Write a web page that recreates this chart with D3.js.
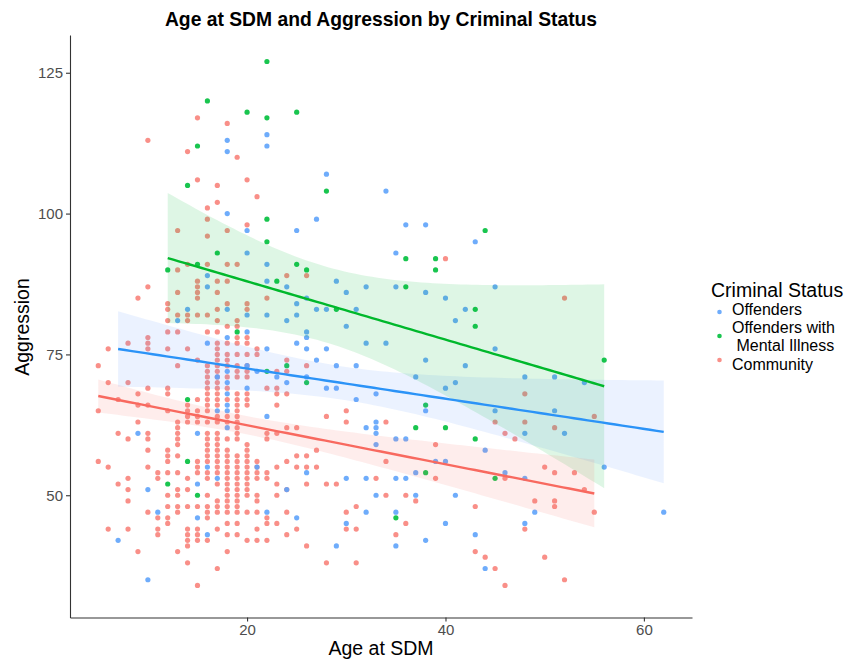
<!DOCTYPE html>
<html>
<head>
<meta charset="utf-8">
<script src="https://cdn.jsdelivr.net/npm/d3@7"></script>
<style>
  body { margin: 0; background: #fff; }
  text { font-family: "Liberation Sans", Arial, Helvetica, sans-serif; }
</style>
</head>
<body>
<svg id="chart" width="845" height="661"></svg>
<script>
// data: [age at SDM, [aggression scores at that age]]
const community = [
  [5, [73, 65, 56]],
  [6, [76, 70, 55, 44]],
  [7, [67, 61, 52]],
  [8, [77, 70, 60, 53, 51, 49, 44]],
  [9, [85, 68, 66, 63, 40]],
  [10, [113, 87, 78, 77, 76, 69, 66, 61, 60, 58, 55, 47]],
  [11, [54, 53, 46, 44, 43]],
  [12, [84, 83, 81, 79, 76, 69, 68, 65, 58, 57, 56, 54, 50, 48, 46, 45]],
  [13, [97, 90, 86, 82, 79, 73, 63, 62, 61, 60, 59, 57, 54, 51, 50, 48, 47, 40]],
  [14, [111, 91, 82, 81, 76, 66, 65, 64, 63, 53, 51, 48, 44, 43, 42, 41, 38]],
  [15, [117, 106, 88, 87, 86, 85, 82, 74, 67, 65, 64, 63, 56, 55, 54, 48, 44, 43, 42, 34]],
  [16, [101, 99, 96, 91, 82, 79, 73, 72, 71, 70, 69, 68, 67, 66, 65, 63, 61, 60, 59, 58, 57, 56, 54, 53, 50, 48, 47, 46, 42]],
  [17, [105, 102, 88, 86, 83, 81, 79, 77, 76, 75, 74, 73, 72, 71, 70, 69, 68, 67, 66, 64, 63, 61, 60, 59, 58, 57, 56, 55, 54, 52, 49, 48, 47, 44, 37]],
  [18, [116, 97, 91, 88, 84, 80, 77, 75, 74, 73, 71, 69, 67, 64, 63, 60, 58, 57, 56, 55, 54, 53, 52, 51, 50, 49, 48, 47, 45, 43, 40]],
  [19, [110, 91, 81, 80, 78, 77, 75, 73, 72, 71, 68, 67, 66, 65, 64, 63, 62, 61, 60, 57, 56, 55, 54, 53, 52, 51, 50, 49, 48, 47, 45, 43]],
  [20, [106, 98, 84, 83, 78, 77, 75, 73, 72, 71, 68, 67, 66, 59, 58, 57, 56, 55, 54, 53, 52, 51, 50, 47, 42]],
  [21, [103, 76, 75, 56, 55, 54, 53, 50, 49, 47, 44, 42]],
  [22, [85, 69, 61, 60, 54, 53, 46, 45, 42]],
  [23, [72, 69, 68, 66, 61, 55, 52, 50, 45]],
  [24, [89, 74, 72, 68, 62, 56, 51, 47, 43]],
  [25, [62, 57, 55, 44]],
  [26, [89, 73, 57, 55, 52, 41]],
  [27, [58, 55]],
  [28, [64, 52, 38]],
  [29, [52]],
  [30, [65, 63, 47, 44]],
  [31, [48, 44, 38]],
  [33, [53]],
  [34, [63, 56, 50]],
  [35, [43]],
  [36, [50, 45]],
  [37, [49]],
  [39, [59, 53]],
  [40, [92]],
  [43, [48, 40]],
  [44, [39]],
  [45, [63, 37]],
  [46, [61, 53, 34]],
  [47, [60]],
  [48, [68, 63, 44]],
  [49, [49]],
  [50, [55, 39]],
  [51, [62, 54, 49, 48]],
  [52, [85, 35]],
  [53, [54]],
  [54, [51]],
  [55, [64, 47]]
];

const offenders = [
  [7, [42]],
  [9, [61]],
  [10, [51, 35]],
  [11, [47]],
  [13, [81]],
  [14, [83]],
  [15, [61, 52, 46]],
  [16, [89, 87, 77, 55, 43]],
  [17, [71, 65, 53]],
  [18, [113, 111, 100, 83, 78, 72, 70, 68, 66, 65, 62]],
  [20, [97, 93, 82, 79, 73, 69]],
  [21, [72, 55]],
  [22, [114, 112, 91, 88, 82, 76, 64, 47]],
  [23, [71]],
  [24, [87, 81, 70, 51]],
  [25, [97, 84, 82, 77, 46]],
  [26, [85, 79, 78, 76, 71, 54]],
  [27, [99, 83, 74]],
  [28, [107, 83, 76, 69]],
  [29, [88, 73, 69, 41]],
  [30, [86, 80, 53, 45]],
  [31, [83, 73, 67]],
  [32, [87, 77, 62, 53, 47]],
  [33, [68, 63, 62, 61, 59, 50]],
  [34, [104, 77]],
  [35, [93, 87, 60, 53, 47, 41]],
  [36, [98, 60, 53]],
  [37, [71, 54, 50]],
  [38, [98, 86, 74, 65, 42]],
  [39, [56]],
  [40, [85, 69, 56, 45]],
  [41, [81, 70, 50]],
  [42, [83, 73]],
  [43, [95, 43]],
  [44, [58, 37]],
  [45, [87, 76, 65]],
  [46, [54]],
  [48, [71, 61, 53, 45]],
  [49, [47]],
  [51, [71, 65]],
  [52, [61]],
  [54, [70]],
  [56, [55]],
  [62, [47]]
];

const offendersMI = [
  [12, [90, 52]],
  [14, [105, 67, 56]],
  [15, [112, 91, 50]],
  [16, [120]],
  [17, [93]],
  [19, [79]],
  [20, [118]],
  [22, [127, 117, 99, 95, 72]],
  [23, [88]],
  [24, [73]],
  [25, [118, 91]],
  [26, [90, 70]],
  [28, [104]],
  [29, [83]],
  [35, [46]],
  [36, [92, 87]],
  [37, [62]],
  [38, [66, 54]],
  [39, [92, 90]],
  [40, [62]],
  [43, [83, 80, 60]],
  [44, [97]],
  [45, [53]],
  [56, [74]]
];

const groupLabels = ["Offenders", "Offenders with\n Mental Illness", "Community"];
const xTicks = [20, 40, 60];
const yTicks = [50, 75, 100, 125];

// styling per group (same order as groupLabels)
const pointColors = ["#5ea3fb", "#00bf3c", "#f8837b"];
const lineColors = ["#2b93f7", "#00b82c", "#f8695f"];
const bandColors = ["#619cff", "#00ba38", "#f8766d"];

const svg = d3.select("#chart");

const x = d3.scaleLinear().domain([2.15, 64.85]).range([70, 692]);
const y = d3.scaleLinear().domain([28.3, 131.7]).range([617.5, 35]);

function flatten(cols) {
  const out = [];
  cols.forEach(([age, vals]) => vals.forEach(v => out.push({ age: age, aggr: v })));
  return out;
}

// two sided 95% t quantile (series approx., fine for these df)
function tQuantile(df) {
  const z = 1.959964;
  return z + (z ** 3 + z) / (4 * df)
    + (5 * z ** 5 + 16 * z ** 3 + 3 * z) / (96 * df * df)
    + (3 * z ** 7 + 19 * z ** 5 + 17 * z ** 3 - 15 * z) / (384 * df ** 3);
}

// lm fit with 95% confidence band, evaluated at 80 points like geom_smooth
function fitLm(pts) {
  const n = pts.length;
  const mx = d3.mean(pts, d => d.age);
  const my = d3.mean(pts, d => d.aggr);
  let sxx = 0, sxy = 0;
  pts.forEach(d => { sxx += (d.age - mx) ** 2; sxy += (d.age - mx) * (d.aggr - my); });
  const b = sxy / sxx;
  const a = my - b * mx;
  let rss = 0;
  pts.forEach(d => { rss += (d.aggr - a - b * d.age) ** 2; });
  const s = Math.sqrt(rss / (n - 2));
  const t = tQuantile(n - 2);
  const [lo, hi] = d3.extent(pts, d => d.age);
  return d3.range(80).map(i => {
    const xv = lo + i * (hi - lo) / 79;
    const fit = a + b * xv;
    const se = s * Math.sqrt(1 / n + (xv - mx) ** 2 / sxx);
    return { age: xv, fit: fit, lower: fit - t * se, upper: fit + t * se };
  });
}

const groups = [offenders, offendersMI, community].map(flatten);
const fits = groups.map(fitLm);

// points: community underneath, offenders groups on top
const drawOrder = [2, 0, 1];
drawOrder.forEach(gi => {
  svg.append("g").selectAll("circle")
    .data(groups[gi])
    .enter().append("circle")
    .attr("cx", d => x(d.age))
    .attr("cy", d => y(d.aggr))
    .attr("r", 2.6)
    .attr("fill", pointColors[gi])
    .attr("fill-opacity", 0.9);
});

const area = d3.area().x(d => x(d.age)).y0(d => y(d.lower)).y1(d => y(d.upper));
const line = d3.line().x(d => x(d.age)).y(d => y(d.fit));

fits.forEach((f, gi) => {
  svg.append("path").attr("d", area(f))
    .attr("fill", bandColors[gi]).attr("fill-opacity", 0.13);
});
fits.forEach((f, gi) => {
  svg.append("path").attr("d", line(f))
    .attr("fill", "none").attr("stroke", lineColors[gi]).attr("stroke-width", 2.4);
});

// axes
const xAxis = svg.append("g").attr("transform", "translate(0,617.5)")
  .call(d3.axisBottom(x).tickValues(xTicks).tickSize(4).tickSizeOuter(0).tickPadding(3));
const yAxis = svg.append("g").attr("transform", "translate(70,0)")
  .call(d3.axisLeft(y).tickValues(yTicks).tickSize(4).tickSizeOuter(0).tickPadding(3));
[xAxis, yAxis].forEach(ax => {
  ax.select(".domain").attr("stroke", "#333").attr("stroke-width", 1.1);
  ax.selectAll(".tick line").attr("stroke", "#333").attr("stroke-width", 1.1);
  ax.selectAll(".tick text").attr("fill", "#4d4d4d")
    .style("font-size", "15px").style("font-family", "Liberation Sans, Arial, sans-serif");
});

// titles
svg.append("text").attr("x", 381).attr("y", 26).attr("text-anchor", "middle")
  .style("font-size", "19.3px").style("font-weight", "bold")
  .text("Age at SDM and Aggression by Criminal Status");
svg.append("text").attr("x", 381).attr("y", 655).attr("text-anchor", "middle")
  .style("font-size", "19.5px").text("Age at SDM");
svg.append("text").attr("transform", "translate(29,327) rotate(-90)").attr("text-anchor", "middle")
  .style("font-size", "19.5px").text("Aggression");

// legend
const legend = svg.append("g");
legend.append("text").attr("x", 711).attr("y", 297).style("font-size", "19.5px").text("Criminal Status");
const keyY = [312, 336, 360];
const labelBase = [314.5, 332.8, 369.5];   // first baseline of each key label
groupLabels.forEach((lab, gi) => {
  legend.append("circle").attr("cx", 719.5).attr("cy", keyY[gi]).attr("r", 2.3)
    .attr("fill", pointColors[gi]).attr("fill-opacity", 0.9);
  const lines = lab.split("\n");
  const t = legend.append("text").attr("x", 732).attr("y", labelBase[gi])
    .style("font-size", "16px").attr("xml:space", "preserve");
  lines.forEach((ln, li) => {
    t.append("tspan").attr("x", 732).attr("dy", li === 0 ? 0 : 18.4).text(ln);
  });
});
</script>
</body>
</html>
